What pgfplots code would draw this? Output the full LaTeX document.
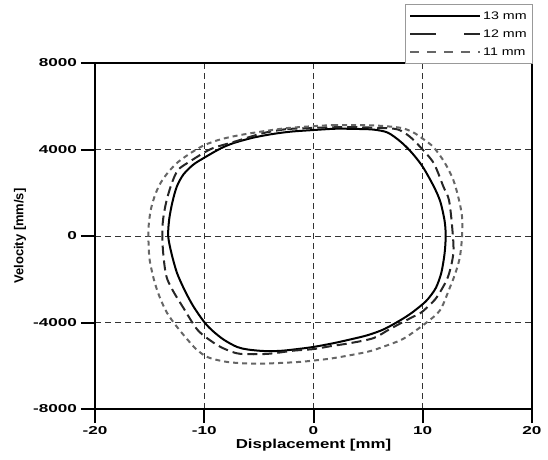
\documentclass[border=0pt]{standalone}
\usepackage{pgfplots}
\pgfplotsset{compat=1.18}
\usepackage{fontspec}
\setmainfont{Liberation Sans}[FakeStretch=1.3]
\newfontfamily\ylabfont{Liberation Sans}
\begin{document}
\begin{tikzpicture}
\useasboundingbox (0,0) rectangle (548bp,460bp);
\begin{axis}[
  at={(95bp,51bp)}, anchor=south west,
  scale only axis, width=437bp, height=346bp,
  xmin=-20, xmax=20, ymin=-8000, ymax=8000,
  xtick={-20,-10,0,10,20}, ytick={-8000,-4000,0,4000,8000},
  xticklabels={-20,-10,0,10,20},
  yticklabels={-8000,-4000,0,4000,8000},
  ticklabel style={font=\bfseries\fontsize{11.5}{13}\selectfont, xscale=1.15},
  grid=major,
  grid style={dash pattern=on 6bp off 4bp, black!80, line width=0.9bp},
  axis line style={line width=2.2bp},
  tick style={line width=2bp, black},
  tick pos=left, tick align=outside, major tick length=14bp,
  xlabel={Displacement [mm]},
  ylabel={Velocity [mm/s]},
  xlabel style={font=\bfseries\fontsize{13}{15}\selectfont, at={(axis description cs:0.5,-0.104)}, anchor=center},
  ylabel style={font=\ylabfont\bfseries\fontsize{13}{15}\selectfont, at={(axis description cs:-0.1716,0.5)}, anchor=center},
  legend style={at={(1.002,1.17)}, anchor=north east, draw=black!40,
    font=\fontsize{11}{13}\selectfont, row sep=5bp, inner xsep=4bp, inner ysep=5bp},
  legend cell align=left,
  legend image code/.code={\draw[#1] (0bp,0bp) -- (70bp,0bp);},
]
\addplot[black, line width=2bp, smooth, tension=0.5] coordinates {
(0,4900) (2,4960) (4,4950) (5.5,4920) (6.8,4780) (8,4350) (9,3850) (10,3200) (11,2300) (11.6,1600) (12,700) (12.1,0) (12,-800) (11.7,-1700) (11.2,-2400) (10.5,-2900) (10,-3150) (9,-3550) (8,-3880) (6.5,-4300) (5,-4580) (3.4,-4780) (1.8,-4960) (0,-5130) (-1.5,-5230) (-3,-5310) (-4.5,-5320) (-6,-5250) (-7,-5130) (-8.2,-4800) (-9.2,-4400) (-10,-3980) (-11,-3250) (-11.8,-2500) (-12.5,-1700) (-13,-800) (-13.3,0) (-13.2,800) (-12.9,1600) (-12.5,2300) (-11.9,2850) (-11,3300) (-10,3620) (-8.5,4050) (-7.3,4300) (-5.5,4550) (-3.7,4720) (-2,4830) (0,4900)
};
\addlegendentry{13 mm}
\addplot[black!85, line width=2bp, dash pattern=on 10bp off 5bp, smooth, tension=0.5,
  legend image code/.code={\draw[black!85, line width=2bp, dash pattern=on 26bp off 28bp] (0bp,0bp) -- (70bp,0bp);}] coordinates {
(-2.4,4950) (0,5000) (2,5030) (4,5030) (6,5000) (7.7,4930) (8.8,4600) (9.8,4100) (11,3370) (11.9,2270) (12.4,1660) (12.7,370) (12.8,-790) (12.3,-1900) (11.3,-2820) (10.5,-3250) (9.8,-3560) (8.9,-3790) (7,-4300) (5.5,-4720) (3.4,-4950) (1.5,-5100) (0,-5230) (-1.8,-5300) (-4.2,-5450) (-6.7,-5450) (-8,-5250) (-9.1,-4950) (-10.6,-4350) (-11.9,-3330) (-12.9,-2500) (-13.5,-1800) (-13.8,-510) (-13.8,600) (-13.5,1530) (-13,2400) (-12.4,3050) (-11.4,3420) (-9.4,4020) (-7.3,4350) (-4.6,4760) (-2.4,4950)
};
\addlegendentry{12 mm}
\addplot[black!60, line width=2bp, dash pattern=on 5bp off 4bp, smooth, tension=0.5,
  legend image code/.code={\draw[black!60, line width=2bp, dash pattern=on 9bp off 8bp] (0bp,0bp) -- (70bp,0bp);}] coordinates {
(1.8,5130) (4,5130) (6,5100) (8,5000) (9.1,4800) (10,4500) (11,4100) (12,3400) (12.8,2590) (13.3,1700) (13.6,880) (13.6,0) (13.4,-970) (13,-1700) (12.5,-2360) (11.6,-3420) (10.4,-3980) (9,-4500) (8,-4810) (6.5,-5100) (4.9,-5360) (1.8,-5650) (0,-5760) (-1.2,-5820) (-3,-5870) (-4.8,-5900) (-6.7,-5880) (-8.2,-5800) (-9.7,-5600) (-10.7,-5250) (-11.5,-4810) (-12.5,-4200) (-13.4,-3560) (-14.1,-2800) (-14.6,-2030) (-15,-1100) (-15.1,-320) (-15.1,400) (-14.9,1200) (-14.5,1900) (-14,2450) (-13.3,2950) (-12.4,3420) (-11.2,3850) (-10,4200) (-8.5,4470) (-6.7,4670) (-4.5,4850) (-2.4,4990) (0,5080) (1.8,5130)
};
\addlegendentry{11 mm}
\end{axis}
\end{tikzpicture}
\end{document}
